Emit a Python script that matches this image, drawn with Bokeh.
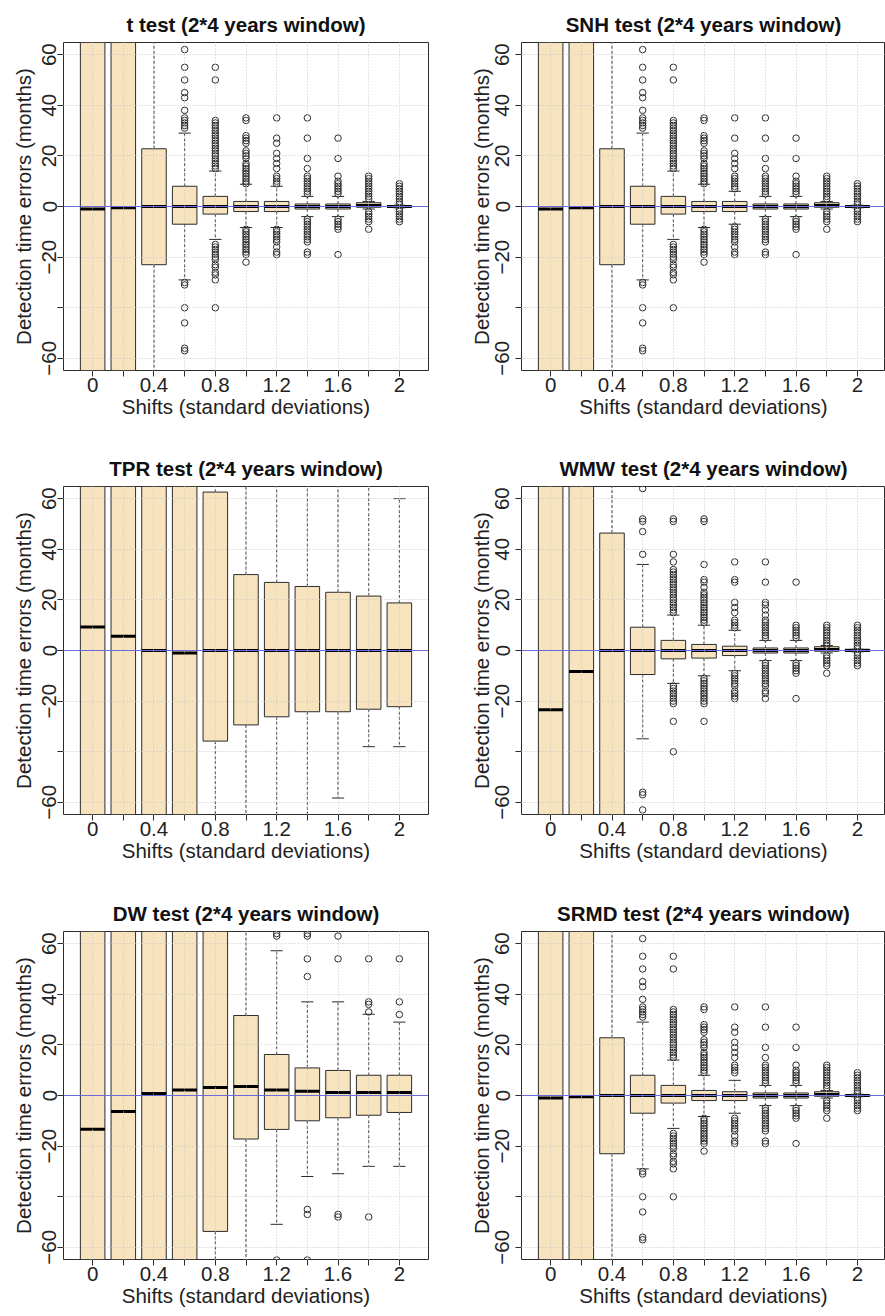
from bokeh.plotting import figure
from bokeh.models import (Range1d, FixedTicker, Span, ColumnDataSource, Title, LinearAxis,
                          NumeralTickFormatter, CustomJSTickFormatter)
from bokeh.transform import dodge
from bokeh.layouts import column, row
from bokeh.embed import file_html
from bokeh.resources import INLINE

shifts = [0.0, 0.2, 0.4, 0.6, 0.8, 1.0, 1.2, 1.4, 1.6, 1.8, 2.0]
x_labeled_ticks = [0.0, 0.4, 0.8, 1.2, 1.6, 2.0]
x_plain_ticks = [0.2, 0.6, 1.0, 1.4, 1.8]
y_labeled_ticks = [-60, -20, 0, 20, 40, 60]
y_plain_ticks = [-40]
y_grid_ticks = [-60, -40, -20, 20, 40, 60]

x_title = "Shifts (standard deviations)"
y_title = "Detection time errors (months)"

# ---- t test ----
t_q1 = [-75, -75, -23, -7, -3, -2, -2, -1, -1, -0.3, -0.3]
t_med = [-1, -0.5, 0, 0, 0, 0, 0, 0, 0, 0.4, 0]
t_q3 = [75, 75, 22.8, 8, 4, 2, 2, 1, 1, 1.5, 0.3]
t_lo = [-80, -80, -80, -29, -13, -8.3, -8.3, -4, -4, -1, -0.5]
t_hi = [80, 80, 80, 29, 14, 8.8, 8, 4, 4, 2, 0.5]
t_out = [
    [], [], [],
    [62, 55, 50, 45, 43, 38, 35, 34, 33, 32, 31, -30, -31, -40, -46, -56, -57],
    [55, 50, 34, 33, 32, 31, 30, 29, 28, 27, 26, 25, 24, 23, 22, 21, 20, 19, 18, 17, 16, 15,
     -15, -16, -17, -18, -19, -20, -21, -23, -24, -26, -27, -29, -40],
    [35, 34, 28, 27, 26, 25, 22, 21, 20, 19, 17, 16, 15, 14, 13, 12, 11, 10, 9,
     -9, -10, -11, -12, -13, -14, -15, -16, -17, -18, -19, -22],
    [35, 27, 25, 21, 19, 17, 15, 12, 11, 10, 9, -9, -10, -11, -12, -13, -14, -16, -18, -19],
    [35, 27, 19, 15, 12, 11, 10, 9, 8, 7, 6, 5,
     -5, -6, -7, -8, -9, -10, -11, -12, -13, -14, -18, -19],
    [27, 19, 12, 10, 9, 8, 7, 6, 5, -5, -6, -7, -8, -9, -19],
    [12, 11, 10, 9, 8, 7, 6, 5, 4, 3, -2, -3, -4, -5, -6, -9],
    [9, 8, 7, 6, 5, 4, 3, 2, 1, -1, -2, -3, -4, -5, -6],
]

# ---- SNH test ----
snh_q1 = [-75, -75, -23, -7, -3, -2, -2, -1, -1, -0.3, -0.3]
snh_med = [-1, -0.5, 0, 0, 0, 0, 0, 0, 0, 0.4, 0]
snh_q3 = [75, 75, 22.8, 8, 4, 2, 2, 1, 1, 1.5, 0.3]
snh_lo = [-80, -80, -80, -29, -13, -8.3, -7, -4, -4, -1, -0.5]
snh_hi = [80, 80, 80, 29, 14, 8.8, 6, 4, 4, 2, 0.5]
snh_out = [
    [], [], [],
    [62, 55, 50, 45, 43, 38, 35, 34, 33, 32, 31, -30, -31, -40, -46, -56, -57],
    [55, 50, 34, 33, 32, 31, 30, 29, 28, 27, 26, 25, 24, 23, 22, 21, 20, 19, 18, 17, 16, 15,
     -15, -16, -17, -18, -19, -20, -21, -23, -24, -26, -27, -29, -40],
    [35, 34, 28, 27, 26, 25, 22, 21, 20, 19, 17, 16, 15, 14, 13, 12, 11, 10, 9,
     -9, -10, -11, -12, -13, -14, -15, -16, -17, -18, -19, -22],
    [35, 27, 21, 19, 17, 15, 12, 11, 10, 9, 8, 7, -8, -9, -10, -11, -12, -13, -14, -16, -18, -19],
    [35, 27, 19, 15, 12, 11, 10, 9, 8, 7, 6, 5,
     -5, -6, -7, -8, -9, -10, -11, -12, -13, -14, -18, -19],
    [27, 19, 12, 10, 9, 8, 7, 6, 5, -5, -6, -7, -8, -9, -19],
    [12, 11, 10, 9, 8, 7, 6, 5, 4, 3, -2, -3, -4, -5, -6, -9],
    [9, 8, 7, 6, 5, 4, 3, 2, 1, -1, -2, -3, -4, -5, -6],
]

# ---- TPR test ----
tpr_q1 = [-75, -75, -75, -75, -35.8, -29.4, -26.2, -24.2, -24.2, -23.2, -22.2]
tpr_med = [9.3, 5.6, 0, -1, 0, 0, 0, 0, 0, 0, 0]
tpr_q3 = [75, 75, 75, 75, 62.6, 30, 26.9, 25.3, 23, 21.5, 18.8]
tpr_lo = [-80, -80, -80, -80, -80, -80, -80, -80, -58.3, -38, -38]
tpr_hi = [80, 80, 80, 80, 80, 80, 80, 80, 80, 80, 60]
tpr_out = [[], [], [], [], [], [], [], [], [], [], []]

# ---- WMW test ----
wmw_q1 = [-75, -75, -75, -9.5, -3.3, -3, -2, -1, -1, -0.3, -0.3]
wmw_med = [-23.4, -8.3, 0, 0, 0, 0, 0, 0, 0, 0.4, 0]
wmw_q3 = [75, 75, 46.4, 9.2, 4, 2.4, 1.7, 1, 1, 1.5, 0.5]
wmw_lo = [-80, -80, -80, -34.9, -13, -10, -8, -4, -4, -1, -0.5]
wmw_hi = [80, 80, 80, 34, 14, 10, 8, 4, 4, 2, 0.5]
wmw_out = [
    [], [], [],
    [64, 52, 51, 47, 38, -56, -57, -63],
    [52, 51, 38, 35, 32, 31, 30, 29, 28, 27, 26, 25, 24, 23, 22, 21, 20, 19, 18, 17, 16, 15,
     -14, -15, -16, -17, -18, -19, -20, -21, -28, -40],
    [52, 51, 34, 28, 27, 25, 23, 22, 21, 20, 19, 18, 17, 16, 15, 14, 13, 12, 11,
     -11, -12, -13, -14, -15, -16, -17, -18, -19, -20, -21, -28],
    [35, 28, 27, 19, 17, 15, 12, 11, 10, 9, -9, -10, -11, -12, -13, -14, -16, -17, -18, -19],
    [35, 27, 19, 18, 16, 14, 12, 11, 10, 9, 8, 7, 6, 5,
     -5, -6, -7, -8, -9, -10, -11, -12, -13, -14, -16, -17, -19],
    [27, 10, 9, 8, 7, 6, 5, -5, -6, -7, -8, -9, -19],
    [10, 9, 8, 7, 6, 5, 4, 3, 2, -2, -3, -4, -5, -6, -9],
    [10, 9, 8, 7, 6, 5, 4, 3, 2, 1, -1, -2, -3, -4, -5, -6],
]

# ---- DW test ----
dw_q1 = [-75, -75, -75, -75, -53.7, -17.2, -13.4, -10, -8.8, -7.8, -6.7]
dw_med = [-13.3, -6.3, 0.8, 2.2, 3.2, 3.6, 2.2, 1.7, 1.2, 1.2, 1.2]
dw_q3 = [75, 75, 75, 75, 75, 31.6, 16.2, 10.9, 9.9, 8, 8]
dw_lo = [-80, -80, -80, -80, -80, -80, -50.9, -32, -30.9, -28, -28]
dw_hi = [80, 80, 80, 80, 80, 80, 57.2, 37, 37, 32.1, 29]
dw_out = [
    [], [], [], [], [], [],
    [64, 63, -65],
    [64, 63, 54, 47, -45, -47, -65],
    [63, 54, -47, -48],
    [54, 37, 36, 33, -48],
    [54, 37, 32],
]

# ---- SRMD test ----
srmd_q1 = [-75, -75, -23, -7, -3, -2, -2, -1, -1, -0.3, -0.3]
srmd_med = [-1, -0.5, 0, 0, 0, 0, 0, 0, 0, 0.4, 0]
srmd_q3 = [75, 75, 22.8, 8, 4, 2, 1.5, 1, 1, 1.5, 0.3]
srmd_lo = [-80, -80, -80, -29, -13, -8.3, -7, -4, -4, -1, -0.5]
srmd_hi = [80, 80, 80, 29, 14, 8, 6, 4, 4, 2, 0.5]
srmd_out = t_out

BOX_FILL = "#F7E3BD"
INK = "#2b2b2b"
FONT = "Liberation Sans"
FS = "20.5px"


def panel(title, q1, med, q3, lo, hi, outl, right_col, height, b_bottom):
    width = 427 if right_col else 458
    x_end = 2.183 if right_col else 2.19
    p = figure(width=width, height=height, x_range=Range1d(-0.19, x_end),
               y_range=Range1d(-64.8, 64.8), output_backend="svg", toolbar_location=None,
               title=None,
               min_border_left=63, min_border_right=0 if right_col else 30,
               min_border_top=42, min_border_bottom=b_bottom)
    p.background_fill_color = "white"
    p.border_fill_color = "white"
    p.outline_line_color = INK
    p.outline_line_width = 1

    src = ColumnDataSource(dict(x=shifts, q1=q1, med=med, q3=q3, lo=lo, hi=hi))
    # whiskers
    p.segment(x0="x", y0="q3", x1="x", y1="hi", source=src, line_color=INK,
              line_width=1, line_dash="3 2")
    p.segment(x0="x", y0="q1", x1="x", y1="lo", source=src, line_color=INK,
              line_width=1, line_dash="3 2")
    # boxes
    p.vbar(x="x", width=0.16, bottom="q1", top="q3", source=src,
           fill_color=BOX_FILL, line_color=INK, line_width=1)
    # medians
    p.segment(x0=dodge("x", -0.08), x1=dodge("x", 0.08), y0="med", y1="med", source=src,
              line_color="black", line_width=3, line_cap="butt")
    # staples
    p.segment(x0=dodge("x", -0.04), x1=dodge("x", 0.04), y0="hi", y1="hi", source=src,
              line_color=INK, line_width=1)
    p.segment(x0=dodge("x", -0.04), x1=dodge("x", 0.04), y0="lo", y1="lo", source=src,
              line_color=INK, line_width=1)
    # outliers
    ox = [s for s, vals in zip(shifts, outl) for v in vals]
    oy = [v for s, vals in zip(shifts, outl) for v in vals]
    p.scatter(ox, oy, marker="circle", size=6.5, fill_color=None, line_color=INK,
              line_width=1)

    p.add_layout(Span(location=0, dimension="width", line_color="#6b6bdc", line_width=1))

    # grid
    p.xgrid.ticker = FixedTicker(ticks=shifts)
    p.ygrid.ticker = FixedTicker(ticks=y_grid_ticks)
    for g in (p.xgrid, p.ygrid):
        g.grid_line_color = "#c9c9c9"
        g.grid_line_dash = "1 2"
        g.grid_line_width = 1
        g.level = "annotation"

    # axes
    xa = p.xaxis[0]
    ya = p.yaxis[0]
    xa.ticker = FixedTicker(ticks=x_labeled_ticks, minor_ticks=x_plain_ticks)
    xa.formatter = NumeralTickFormatter(format="0.[0]")
    ya.ticker = FixedTicker(ticks=y_labeled_ticks, minor_ticks=y_plain_ticks)
    ya.formatter = CustomJSTickFormatter(
        code="return tick < 0 ? '\u2212' + Math.abs(tick) : String(tick);")
    ya.major_label_orientation = "vertical"
    for ax in (xa, ya):
        ax.axis_line_color = None
        ax.major_tick_line_color = INK
        ax.minor_tick_line_color = INK
        ax.major_tick_in = 0
        ax.minor_tick_in = 0
        ax.major_tick_out = 6
        ax.minor_tick_out = 6
        ax.major_label_text_font = FONT
        ax.major_label_text_font_size = FS
        ax.major_label_text_color = "#222222"
        ax.axis_label_text_font = FONT
        ax.axis_label_text_font_size = FS
        ax.axis_label_text_font_style = "normal"
        ax.axis_label_text_color = "#222222"
    xa.axis_label = x_title
    ya.axis_label = y_title
    xa.major_label_standoff = 1
    xa.axis_label_standoff = 0
    if right_col:
        ya.major_label_standoff = 6
        ya.axis_label_standoff = 0
    else:
        ya.major_label_standoff = 1
        ya.axis_label_standoff = 5

    # an empty axis above the frame acts as a small gap under the title
    gap = LinearAxis(ticker=FixedTicker(ticks=[]), axis_line_color=None,
                     major_tick_in=0, minor_tick_in=0, major_tick_out=6, minor_tick_out=0,
                     major_label_standoff=0, major_label_text_font_size="1px")
    p.add_layout(gap, "above")
    p.add_layout(Title(text=title, align="center", vertical_align="top",
                       text_font=FONT, text_font_size=FS, text_font_style="bold",
                       text_color="#111111", standoff=10), "above")
    return p


f1 = panel("t test (2*4 years window)", t_q1, t_med, t_q3, t_lo, t_hi, t_out, False, 444, 74)
f2 = panel("SNH test (2*4 years window)", snh_q1, snh_med, snh_q3, snh_lo, snh_hi, snh_out, True, 444, 74)
f3 = panel("TPR test (2*4 years window)", tpr_q1, tpr_med, tpr_q3, tpr_lo, tpr_hi, tpr_out, False, 445, 75)
f4 = panel("WMW test (2*4 years window)", wmw_q1, wmw_med, wmw_q3, wmw_lo, wmw_hi, wmw_out, True, 445, 75)
f5 = panel("DW test (2*4 years window)", dw_q1, dw_med, dw_q3, dw_lo, dw_hi, dw_out, False, 427, 57)
f6 = panel("SRMD test (2*4 years window)", srmd_q1, srmd_med, srmd_q3, srmd_lo, srmd_hi, srmd_out, True, 427, 57)

layout = column(row(f1, f2), row(f3, f4), row(f5, f6))
open("out.html", "w").write(file_html(layout, INLINE))
